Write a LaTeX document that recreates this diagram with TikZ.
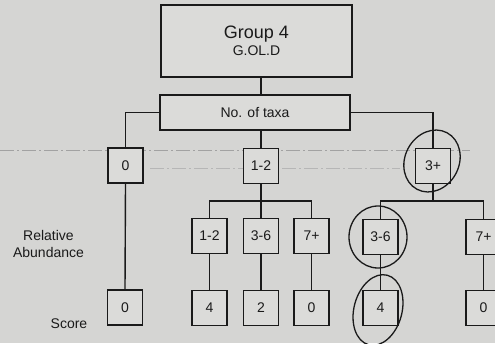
\documentclass[tikz,border=0pt]{standalone}
\usepackage{fontspec}
\setmainfont{Liberation Sans}
\usetikzlibrary{positioning}
\definecolor{paper}{HTML}{D5D5D3}
\definecolor{boxfill}{HTML}{DBDBD9}
\definecolor{printink}{HTML}{1A1A1A}
\definecolor{showthru}{HTML}{A2A2A2}

\begin{document}
\begin{tikzpicture}[
  x=1pt, y=-1pt,
  every node/.style={text=printink, inner sep=0pt},
  box/.style={draw=printink, fill=boxfill, line width=1.4pt,
    minimum width=35pt, minimum height=35pt, font=\fontsize{14}{16}\selectfont},
  bigbox/.style={box, minimum width=191pt, minimum height=72pt, align=center},
  taxabox/.style={box, minimum width=190pt, minimum height=35pt},
  link/.style={printink, line width=1.4pt},
  ring/.style={printink, line width=1.3pt},
  ghost/.style={showthru, line width=0.8pt, dash pattern=on 14pt off 3pt on 2pt off 3pt},
  lbl/.style={font=\fontsize{14}{17}\selectfont, align=center}
]

  %% ---- page --------------------------------------------------------
  \fill[paper] (0,0) rectangle (495,343);
  \useasboundingbox (0,0) rectangle (495,343);
  \clip (0,0) rectangle (495,343);
  \draw[ghost] (0,150) -- (470,150);
  \draw[ghost, showthru!60!paper] (150,168) -- (400,168);

  %% ---- top ---------------------------------------------------------
  \node[bigbox] (group) at (256.5,41)
    {{\fontsize{18}{20}\selectfont Group 4}\\[1pt]{\fontsize{14}{16}\selectfont G.OL.D}};
  \node[taxabox] (taxa) at (255,112.5) {No. of taxa};

  %% ---- no. of taxa -------------------------------------------------
  \node[box] (t0)  at (125.5,165.5) {0};
  \node[box] (t12) at (261,166)     {1-2};
  \node[box] (t3)  at (433,166)     {3+};

  %% ---- relative abundance ------------------------------------------
  \node[box] (a12) at (209.5,236) {1-2};
  \node[box] (a36) at (261,236)   {3-6};
  \node[box] (a7)  at (311.5,236) {7+};
  \node[box] (b36) at (380.5,237) {3-6};
  \node[box] (b7)  at (483.5,237) {7+};

  %% ---- score -------------------------------------------------------
  \node[box] (s0)  at (125,307.5) {0};
  \node[box] (s4)  at (209.5,308) {4};
  \node[box] (s2)  at (261,308)   {2};
  \node[box] (s0b) at (311.5,308) {0};
  \node[box] (s4b) at (380.5,308) {4};
  \node[box] (s0c) at (483.5,308) {0};

  \node[lbl] (abund) at (48.5,244) {Relative\\Abundance};
  \node[lbl] (score) at (69,324)   {Score};

  %% ---- links -------------------------------------------------------
  \coordinate (fork12) at (t12 |- 0,201);
  \coordinate (fork3)  at (t3 |- 0,201);
  \draw[link] (group.south -| t12) -- (taxa.north -| t12);
  \draw[link] (taxa.west) -| (t0.north);
  \draw[link] (taxa.east) -| (t3.north);
  \draw[link] (taxa.south -| t12) -- (t12.north);
  \draw[link] (t12.south) -- (fork12);
  \draw[link] (a12.north) |- (fork12) -| (a7.north);
  \draw[link] (a36.north) -- (fork12);
  \draw[link] (t3.south) -- (fork3);
  \draw[link] (b36.north) |- (fork3) -| (b7.north);
  \foreach \u/\l in {t0/s0, a12/s4, a36/s2, a7/s0b, b36/s4b, b7/s0c}
    \draw[link] (\u.south) -- (\l.north);

  %% ---- pen rings ---------------------------------------------------
  \draw[ring, rotate around={-28:(432,161)}] (432,161) ellipse [x radius=27, y radius=32];
  \draw[ring] (378,237) ellipse [x radius=29, y radius=31];
  \draw[ring, rotate around={-15:(378,310)}] (378,310) ellipse [x radius=24, y radius=36];

\end{tikzpicture}
\end{document}
